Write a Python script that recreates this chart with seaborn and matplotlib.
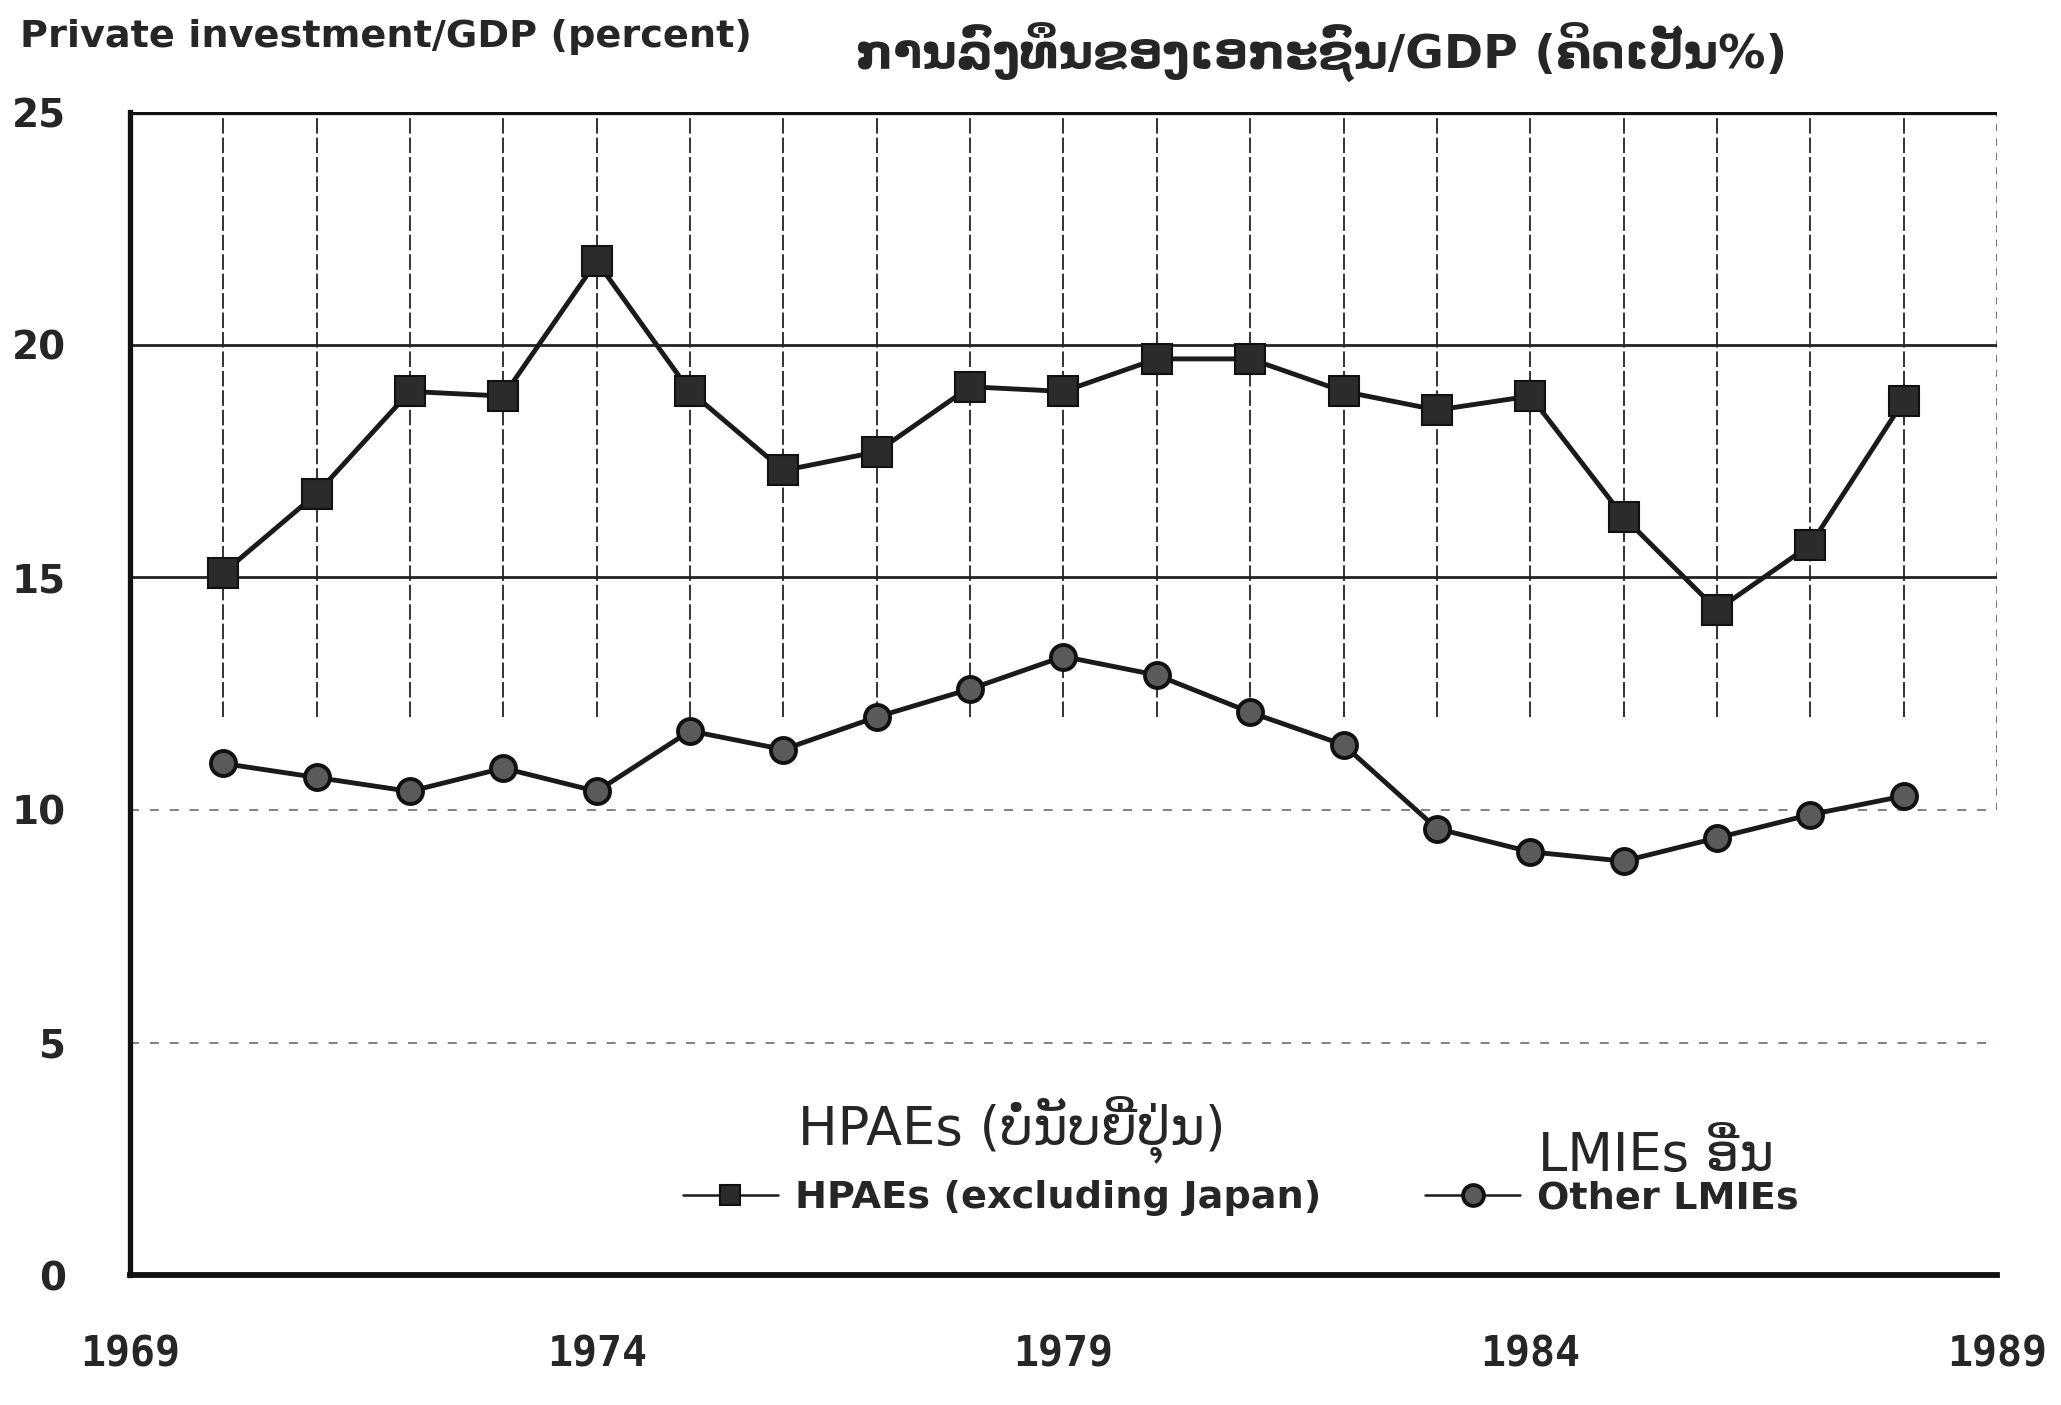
import pandas as pd
import matplotlib
matplotlib.use("Agg")
import matplotlib.pyplot as plt
import seaborn as sns

years = [1970, 1971, 1972, 1973, 1974, 1975, 1976, 1977, 1978, 1979,
         1980, 1981, 1982, 1983, 1984, 1985, 1986, 1987, 1988]
hpae = [15.1, 16.8, 19.0, 18.9, 21.8, 19.0, 17.3, 17.7, 19.1, 19.0,
        19.7, 19.7, 19.0, 18.6, 18.9, 16.3, 14.3, 15.7, 18.8]
lmie = [11.0, 10.7, 10.4, 10.9, 10.4, 11.7, 11.3, 12.0, 12.6, 13.3,
        12.9, 12.1, 11.4, 9.6, 9.1, 8.9, 9.4, 9.9, 10.3]
xticks = [1969, 1974, 1979, 1984, 1989]
yticks = [0, 5, 10, 15, 20, 25]

title_en = "Private investment/GDP (percent)"
title_lo = "ການລົງທຶນຂອງເອກະຊົນ/GDP (ຄິດເປັນ%)"
head_hpae = "HPAEs (ບໍ່ນັບຍີ່ປຸ່ນ)"
head_lmie = "LMIEs ອື່ນ"
lab_hpae = "HPAEs (excluding Japan)"
lab_lmie = "Other LMIEs"

df_h = pd.DataFrame({"year": years, "value": hpae})
df_l = pd.DataFrame({"year": years, "value": lmie})

sns.set_style("white")
plt.rcParams['font.family'] = ['DejaVu Sans']

fig = plt.figure(figsize=(20.61, 14.05), dpi=100)
ax = fig.add_axes([0.063, 0.0925, 0.906, 0.8275])

# grid lines like the printed chart
ax.vlines(years, 12, 25, colors="#333333", linewidth=1.4, linestyles=(0, (8, 2)), zorder=1)
ax.vlines([1989], 10, 25, colors="#666666", linewidth=1.3, linestyles=(0, (4, 4)), zorder=1)
for y in [20, 15]:
    ax.axhline(y, color="#222222", linewidth=2, zorder=1)
for y in [10, 5]:
    ax.axhline(y, color="#777777", linewidth=1.3, linestyle=(0, (5, 6)), zorder=1)
ax.axhline(25, color="#111111", linewidth=3.8, zorder=1)

sns.lineplot(data=df_h, x="year", y="value", ax=ax, color="#1a1a1a", linewidth=3.5,
             marker="s", markersize=21, markerfacecolor="#2b2b2b",
             markeredgecolor="#111111", markeredgewidth=1.5, label=lab_hpae, zorder=3)
sns.lineplot(data=df_l, x="year", y="value", ax=ax, color="#1a1a1a", linewidth=3.5,
             marker="o", markersize=18, markerfacecolor="#5a5a5a",
             markeredgecolor="#111111", markeredgewidth=2.8, label=lab_lmie, zorder=3)

ax.set_xlim(1969, 1989)
ax.set_ylim(0, 25)
ax.set_xticks(xticks)
ax.set_yticks(yticks)
ax.set_xticklabels([str(t) for t in xticks], fontsize=30, fontweight="bold",
                   family="DejaVu Sans Mono")
ax.set_yticklabels([str(t) for t in yticks], fontsize=28, fontweight="bold")
ax.tick_params(axis="x", length=0, pad=42)
ax.tick_params(axis="y", length=0, pad=46)
ax.set_xlabel("")
ax.set_ylabel("")

for s in ["top", "right"]:
    ax.spines[s].set_visible(False)
ax.spines["left"].set_linewidth(3.8)
ax.spines["bottom"].set_linewidth(4.2)
ax.spines["left"].set_color("#111111")
ax.spines["bottom"].set_color("#111111")

leg = ax.legend(loc="center left", bbox_to_anchor=(0.322, 0.147), bbox_transform=fig.transFigure,
                ncol=2, frameon=False, handlelength=2.5, columnspacing=2.7, handletextpad=0.45,
                borderpad=0, prop={"size": 27.5, "weight": "bold"})
for h in leg.legend_handles:
    h.set_linewidth(1.8)
    h.set_markersize(15)

fig.text(0.0097, 0.974, title_en, fontsize=27.5, fontweight="bold", va="center", ha="left")
fig.text(0.641, 0.963, title_lo, fontsize=34, fontweight="bold", va="center", ha="center")
fig.text(0.491, 0.196, head_hpae, fontsize=38, va="center", ha="center")
fig.text(0.746, 0.177, head_lmie, fontsize=38, va="center", ha="left")

fig.savefig("out.png", dpi=100)
